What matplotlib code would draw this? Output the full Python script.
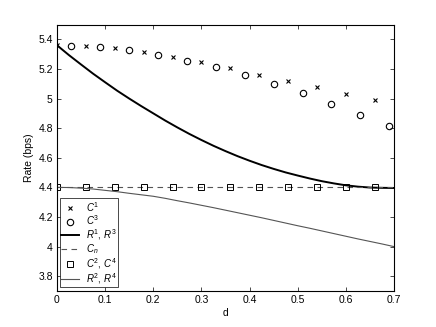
import matplotlib
matplotlib.use("Agg")
import matplotlib.pyplot as plt
from matplotlib.ticker import FuncFormatter

plt.rcParams['font.family'] = ['Liberation Sans', 'DejaVu Sans']
plt.rcParams['mathtext.fontset'] = 'custom'
plt.rcParams['mathtext.rm'] = 'Liberation Sans'
plt.rcParams['mathtext.it'] = 'Liberation Sans:italic'

# Data
d_c1 = [0, 0.06, 0.12, 0.18, 0.24, 0.30, 0.36, 0.42, 0.48, 0.54, 0.60, 0.66]
c1 = [5.36, 5.353, 5.34, 5.313, 5.283, 5.25, 5.207, 5.162, 5.12, 5.075, 5.031, 4.99]

d_c3 = [0.03, 0.09, 0.15, 0.21, 0.27, 0.33, 0.39, 0.45, 0.51, 0.57, 0.63, 0.69]
c3 = [5.355, 5.346, 5.326, 5.297, 5.256, 5.214, 5.16, 5.10, 5.035, 4.966, 4.892, 4.813]

d_r = [0, 0.025, 0.05, 0.075, 0.1, 0.125, 0.15, 0.175, 0.2, 0.225, 0.25, 0.275,
       0.3, 0.325, 0.35, 0.375, 0.4, 0.425, 0.45, 0.475, 0.5, 0.525, 0.55, 0.575,
       0.6, 0.625, 0.65, 0.675, 0.7]
r13 = [5.36, 5.293, 5.23, 5.168, 5.11, 5.053, 5.00, 4.949, 4.90, 4.851, 4.805, 4.761,
       4.72, 4.681, 4.645, 4.611, 4.58, 4.551, 4.525, 4.501, 4.48, 4.46, 4.442, 4.427,
       4.414, 4.405, 4.399, 4.397, 4.396]
r24 = [4.40, 4.399, 4.395, 4.389, 4.38, 4.371, 4.36, 4.35, 4.34, 4.326, 4.31, 4.295,
       4.279, 4.263, 4.246, 4.229, 4.212, 4.195, 4.177, 4.159, 4.141, 4.124, 4.106, 4.088,
       4.07, 4.052, 4.035, 4.018, 4.00]

d_cn = [0, 0.7]
cn = [4.4, 4.4]

d_c24 = [0, 0.06, 0.12, 0.18, 0.24, 0.30, 0.36, 0.42, 0.48, 0.54, 0.60, 0.66]
c24 = [4.4] * 12

xticks = [0, 0.1, 0.2, 0.3, 0.4, 0.5, 0.6, 0.7]
yticks = [3.8, 4.0, 4.2, 4.4, 4.6, 4.8, 5.0, 5.2, 5.4]

fig = plt.figure(figsize=(4.36, 3.27), dpi=100)
ax = fig.add_axes([0.1307, 0.110, 0.773, 0.815])

ax.plot(d_c1, c1, linestyle='none', marker='x', color='black', markersize=3.5, markeredgewidth=0.8, label=r'$C^1$')
ax.plot(d_c3, c3, linestyle='none', marker='o', color='black', markerfacecolor='none', markersize=4.6, markeredgewidth=0.8, label=r'$C^3$')
ax.plot(d_r, r13, color='black', linewidth=1.4, label=r'$R^1$, $R^3$')
ax.plot(d_cn, cn, color='#555555', linewidth=0.8, linestyle=(0, (5, 4)), label=r'$C_n$')
ax.plot(d_c24, c24, linestyle='none', marker='s', color='black', markerfacecolor='none', markersize=3.7, markeredgewidth=0.7, label=r'$C^2$, $C^4$')
ax.plot(d_r, r24, color='#555555', linewidth=0.8, label=r'$R^2$, $R^4$')

ax.set_xlim(0, 0.7)
ax.set_ylim(3.7, 5.5)
ax.set_xticks(xticks)
ax.set_yticks(yticks)
fmt = FuncFormatter(lambda v, p: '%g' % round(v, 2))
ax.xaxis.set_major_formatter(fmt)
ax.yaxis.set_major_formatter(fmt)
ax.tick_params(direction='in', top=True, right=True, length=3, width=0.5, labelsize=7.5, pad=3)
for s in ax.spines.values():
    s.set_linewidth(0.8)
ax.set_xlabel('d', fontsize=7.5, labelpad=2)
ax.set_ylabel('Rate (bps)', fontsize=7.5, labelpad=3)

leg = ax.legend(loc='lower left', bbox_to_anchor=(0.009, 0.015), borderaxespad=0,
                fontsize=7, fancybox=False, edgecolor='black', framealpha=1,
                handlelength=1.8, handletextpad=0.7, labelspacing=0.0, borderpad=0.15)
leg.get_frame().set_linewidth(0.5)

fig.savefig('out.png', dpi=100)
